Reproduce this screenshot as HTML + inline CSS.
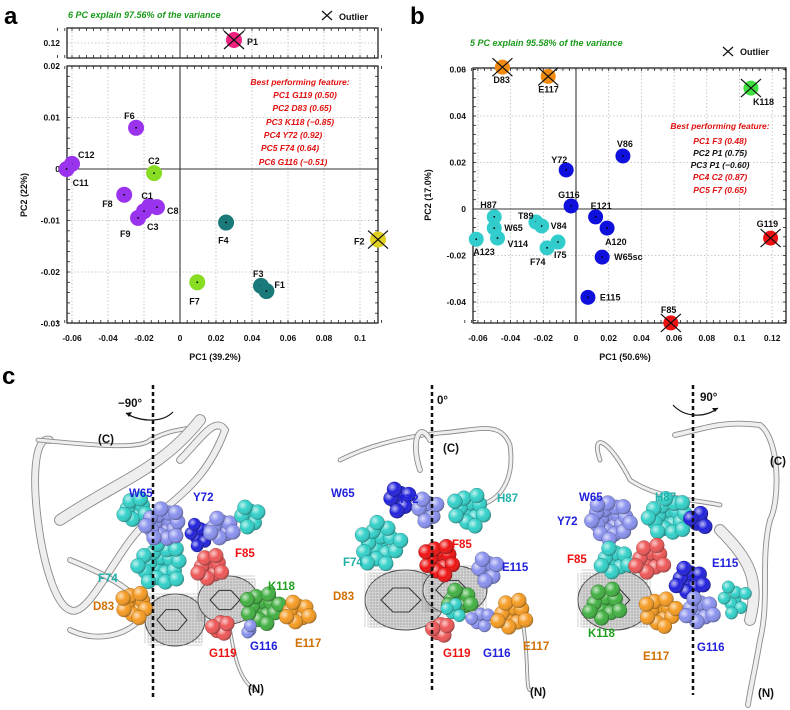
<!DOCTYPE html>
<html><head><meta charset="utf-8"><style>
html,body{margin:0;padding:0;background:#fff;}
svg{display:block;font-family:"Liberation Sans",sans-serif;}
.t{font-weight:bold;font-size:9px;fill:#111;}
.tk{font-weight:bold;font-size:8.5px;fill:#111;}
.g{font-weight:bold;font-style:italic;font-size:9px;fill:#1a9a1a;}
.r{font-weight:bold;font-style:italic;font-size:8.5px;fill:#e01010;}
.k{font-weight:bold;font-style:italic;font-size:8.5px;fill:#111;}
.ml{font-weight:bold;font-size:11.5px;}
</style></head><body>
<svg id="fig" width="790" height="710" viewBox="0 0 790 710" xmlns="http://www.w3.org/2000/svg">
<defs>
<radialGradient id="gp" cx="35%" cy="35%" r="70%"><stop offset="0" stop-color="#fff" stop-opacity="0.7"/><stop offset="0.5" stop-color="#fff" stop-opacity="0"/><stop offset="1" stop-color="#000" stop-opacity="0.3"/></radialGradient>
</defs>
<g id="panelA"></g>
<g id="panelB"></g>
<g id="panelC"></g>
</svg>
<script>
// ---------- Panel a data ----------
const aLabels = ["F6","C12","C11","C2","F8","C1","C8","C3","F9","F4","F2","F7","F3","F1"];
const aX = [-0.0244,-0.060,-0.063,-0.0144,-0.031,-0.017,-0.0128,-0.020,-0.0233,0.0256,0.110,0.0096,0.045,0.048];
const aY = [0.008,0.001,0.0,-0.0008,-0.005,-0.0072,-0.0074,-0.0082,-0.0095,-0.0104,-0.0137,-0.022,-0.0227,-0.0237];
const aGroup = ["p","p","p","lg","p","p","p","p","p","t","y","lg","t","t"];
const aOutlier = [0,0,0,0,0,0,0,0,0,0,1,0,0,0];
const aTopLabel = ["P1"];
const aTopX = [0.030];
const aXTicks = [-0.06,-0.04,-0.02,0,0.02,0.04,0.06,0.08,0.1];
const aXTickLabels = ["-0.06","-0.04","-0.02","0","0.02","0.04","0.06","0.08","0.1"];
const aYTicks = [0.02,0.01,0,-0.01,-0.02,-0.03];
const aYTickLabels = ["0.02","0.01","0","-0.01","-0.02","-0.03"];
const aFeatures = ["PC1  G119 (0.50)","PC2  D83 (0.65)","PC3  K118 (\u22120.85)","PC4  Y72 (0.92)","PC5  F74 (0.64)","PC6 G116 (\u22120.51)"];
// ---------- Panel b data ----------
const bLabels = ["D83","E117","K118","V86","Y72","G116","E121","A120","W65sc","E115","F85","G119","H87","W65","V114","A123","T89","V84","F74","I75"];
const bX = [-0.045,-0.017,0.107,0.0287,-0.006,-0.003,0.012,0.019,0.016,0.0073,0.058,0.119,-0.050,-0.050,-0.048,-0.061,-0.0245,-0.021,-0.0177,-0.011];
const bY = [0.061,0.057,0.052,0.0228,0.0168,0.0013,-0.0034,-0.0082,-0.0207,-0.038,-0.049,-0.0125,-0.0034,-0.0082,-0.0125,-0.013,-0.0056,-0.0073,-0.0167,-0.0142];
const bGroup = ["o","o","g","b","b","b","b","b","b","b","r","r","c","c","c","c","c","c","c","c"];
const bOutlier = [1,1,1,0,0,0,0,0,0,0,1,1,0,0,0,0,0,0,0,0];
const bXTicks = [-0.06,-0.04,-0.02,0,0.02,0.04,0.06,0.08,0.1,0.12];
const bXTickLabels = ["-0.06","-0.04","-0.02","0","0.02","0.04","0.06","0.08","0.1","0.12"];
const bYTicks = [0.06,0.04,0.02,0,-0.02,-0.04];
const bYTickLabels = ["0.06","0.04","0.02","0","-0.02","-0.04"];
const bFeatures = ["PC1 F3 (0.48)","PC2 P1 (0.75)","PC3 P1 (\u22120.60)","PC4 C2 (0.87)","PC5 F7 (0.65)"];
const bFeatureRed = [1,0,0,1,1];

const NS="http://www.w3.org/2000/svg";
function mk(parent,tag,attrs,text){const e=document.createElementNS(NS,tag);for(const k in attrs)e.setAttribute(k,attrs[k]);if(text!==undefined)e.textContent=text;parent.appendChild(e);return e;}
const colors={p:"#9933ee",lg:"#88dd22",t:"#1a7a7a",y:"#e0d020",pk:"#f0207f",o:"#f08a10",g:"#40e040",b:"#1010dd",r:"#ee1111",c:"#33cccc"};

function frame(g,x0,x1,y0,y1){
  const r=mk(g,"rect",{x:x0,y:y0,width:x1-x0,height:y1-y0,fill:"none",stroke:"#222","stroke-width":1.3});
  
  
}
function minorTicksX(g,sx,ticks,y0,y1){
  const step=(ticks[1]-ticks[0])/5;
  for(let v=ticks[0]-step*2;v<=ticks[ticks.length-1]+step*3;v+=step){const x=sx(v);
    mk(g,"line",{x1:x,x2:x,y1:y0,y2:y0+3,stroke:"#222","stroke-width":0.8});
    mk(g,"line",{x1:x,x2:x,y1:y1,y2:y1-3,stroke:"#222","stroke-width":0.8});}
}
function minorTicksY(g,sy,ticks,x0,x1,ymin,ymax){
  const step=Math.abs(ticks[1]-ticks[0])/5;
  for(let v=ticks[ticks.length-1]-step*2;v<=ticks[0]+step*2;v+=step){const y=sy(v);if(y<ymin||y>ymax)continue;
    mk(g,"line",{x1:x0,x2:x0+3,y1:y,y2:y,stroke:"#222","stroke-width":0.8});
    mk(g,"line",{x1:x1,x2:x1-3,y1:y,y2:y,stroke:"#222","stroke-width":0.8});}
}
function marker(g,x,y,r,col,out,name){
  const c=mk(g,"circle",{cx:x,cy:y,r:r,fill:col});
  
  
  mk(g,"circle",{cx:x,cy:y,r:0.9,fill:"#000"});
  if(out){mk(g,"path",{d:`M${x-10} ${y-9}L${x+10} ${y+9}M${x-10} ${y+9}L${x+10} ${y-9}`,stroke:"#111","stroke-width":1.2,fill:"none"});}
}

// ---------- Panel A ----------
(function(){
  const g=document.getElementById("panelA");
  const X0=67,X1=378,Y0=66,Y1=323;
  const sx=v=>180+v*1800, sy=v=>169-v*5150;
  mk(g,"text",{x:4,y:24,"font-size":24,"font-weight":"bold"},"a");
  const tt=mk(g,"text",{x:68,y:18,class:"g"},"6 PC explain 97.56% of the variance");
  
  mk(g,"path",{d:"M322 11L332 20M322 20L332 11",stroke:"#111","stroke-width":1.2});
  mk(g,"text",{x:339,y:20,class:"t"},"Outlier");
  const TY0=28,TY1=58;
  aXTicks.forEach(v=>mk(g,"line",{x1:sx(v),x2:sx(v),y1:TY0,y2:TY1,stroke:"#bbb","stroke-dasharray":"1.5 2","stroke-width":0.8}));
  mk(g,"line",{x1:X0,x2:X1,y1:43,y2:43,stroke:"#bbb","stroke-dasharray":"1.5 2","stroke-width":0.8});
  minorTicksX(g,sx,aXTicks,TY0,TY1);
  mk(g,"line",{x1:180,x2:180,y1:TY0,y2:TY1,stroke:"#333","stroke-width":1});
  frame(g,X0,X1,TY0,TY1);
  mk(g,"text",{x:60,y:46,class:"tk","text-anchor":"end"},"0.12");
  aTopLabel.forEach((l,i)=>{marker(g,sx(aTopX[i]),40,8,colors.pk,1,"point-"+l);mk(g,"text",{x:sx(aTopX[i])+13,y:45,class:"t","font-size":10},l);});
  aXTicks.forEach(v=>mk(g,"line",{x1:sx(v),x2:sx(v),y1:Y0,y2:Y1,stroke:"#bbb","stroke-dasharray":"1.5 2","stroke-width":0.8}));
  aYTicks.forEach(v=>mk(g,"line",{x1:X0,x2:X1,y1:sy(v),y2:sy(v),stroke:"#bbb","stroke-dasharray":"1.5 2","stroke-width":0.8}));
  minorTicksX(g,sx,aXTicks,Y0,Y1);
  minorTicksY(g,sy,aYTicks,X0,X1,Y0,Y1);
  mk(g,"line",{x1:180,x2:180,y1:Y0,y2:Y1,stroke:"#222","stroke-width":1});
  mk(g,"line",{x1:X0,x2:X1,y1:sy(0),y2:sy(0),stroke:"#333","stroke-width":1});
  frame(g,X0,X1,Y0,Y1);
  aXTicks.forEach((v,i)=>mk(g,"text",{x:sx(v),y:341,class:"tk","text-anchor":"middle"},aXTickLabels[i]));
  aYTicks.forEach((v,i)=>mk(g,"text",{x:60,y:sy(v)+3,class:"tk","text-anchor":"end"},aYTickLabels[i]));
  const xl=mk(g,"text",{x:215,y:360,class:"t","text-anchor":"middle"},"PC1 (39.2%)");
  
  const yl=mk(g,"text",{x:0,y:0,class:"t","text-anchor":"middle",transform:"translate(27,195) rotate(-90)"},"PC2 (22%)");
  
  const off={F6:[-12,-9],C12:[6,-6],C11:[6,17],C2:[-6,-9],F8:[-22,12],C1:[-8,-7],C8:[10,7],C3:[3,19],F9:[-18,19],F4:[-8,21],F2:[-24,5],F7:[-8,22],F3:[-8,-9],F1:[8,-3]};
  aLabels.forEach((l,i)=>{const x=sx(aX[i]),y=sy(aY[i]);marker(g,x,y,8,colors[aGroup[i]],aOutlier[i],"point-"+l);});
  aLabels.forEach((l,i)=>{const x=sx(aX[i]),y=sy(aY[i]);const o=off[l]||[8,-8];mk(g,"text",{x:x+o[0],y:y+o[1],class:"t","font-size":10},l);});
  mk(g,"text",{x:300,y:85,class:"r","text-anchor":"middle"},"Best performing feature:");
  const fy=[98,111,125,138,151,165], fx=[305,302,300,293,290,293];
  aFeatures.forEach((f,i)=>mk(g,"text",{x:fx[i],y:fy[i],class:"r","text-anchor":"middle"},f));
})();

// ---------- Panel B ----------
(function(){
  const g=document.getElementById("panelB");
  const X0=473,X1=786,Y0=68,Y1=323;
  const sx=v=>576+v*1635, sy=v=>209-v*2325;
  mk(g,"text",{x:410,y:24,"font-size":24,"font-weight":"bold"},"b");
  mk(g,"text",{x:470,y:46,class:"g","font-size":8.5},"5 PC explain 95.58% of the variance");
  mk(g,"path",{d:"M723 47L733 56M723 56L733 47",stroke:"#111","stroke-width":1.2});
  mk(g,"text",{x:740,y:55,class:"t"},"Outlier");
  bXTicks.forEach(v=>mk(g,"line",{x1:sx(v),x2:sx(v),y1:Y0,y2:Y1,stroke:"#bbb","stroke-dasharray":"1.5 2","stroke-width":0.8}));
  bYTicks.forEach(v=>mk(g,"line",{x1:X0,x2:X1,y1:sy(v),y2:sy(v),stroke:"#bbb","stroke-dasharray":"1.5 2","stroke-width":0.8}));
  minorTicksX(g,sx,bXTicks,Y0,Y1);
  minorTicksY(g,sy,bYTicks,X0,X1,Y0,Y1);
  mk(g,"line",{x1:sx(0),x2:sx(0),y1:Y0,y2:Y1,stroke:"#222","stroke-width":1});
  mk(g,"line",{x1:X0,x2:X1,y1:sy(0),y2:sy(0),stroke:"#333","stroke-width":1});
  frame(g,X0,X1,Y0,Y1);
  bXTicks.forEach((v,i)=>mk(g,"text",{x:sx(v),y:341,class:"tk","text-anchor":"middle"},bXTickLabels[i]));
  bYTicks.forEach((v,i)=>mk(g,"text",{x:466,y:sy(v)+3,class:"tk","text-anchor":"end"},bYTickLabels[i]));
  const xl=mk(g,"text",{x:625,y:360,class:"t","text-anchor":"middle"},"PC1 (50.6%)");
  
  const yl=mk(g,"text",{x:0,y:0,class:"t","text-anchor":"middle",transform:"translate(431,195) rotate(-90)"},"PC2 (17.0%)");
  
  const off={D83:[-9,16],E117:[-10,16],K118:[2,17],V86:[-6,-9],Y72:[-15,-7],G116:[-13,-8],E121:[-5,-8],A120:[-2,17],W65sc:[12,3],E115:[12,3],F85:[-10,-10],G119:[-14,-11],H87:[-14,-9],W65:[10,3],V114:[10,9],A123:[-3,16],T89:[-18,-3],V84:[9,3],F74:[-17,17],I75:[-4,16]};
  bLabels.forEach((l,i)=>{marker(g,sx(bX[i]),sy(bY[i]),7.5,colors[bGroup[i]],bOutlier[i],"point-"+l);});
  bLabels.forEach((l,i)=>{const o=off[l];mk(g,"text",{x:sx(bX[i])+o[0],y:sy(bY[i])+o[1],class:"t","font-size":8.5},l);});
  mk(g,"text",{x:720,y:129,class:"r","text-anchor":"middle"},"Best performing feature:");
  const fy=[144,156,168,180,193];
  bFeatures.forEach((f,i)=>mk(g,"text",{x:720,y:fy[i],class:bFeatureRed[i]?"r":"k","text-anchor":"middle"},f));
})();

// ---------- Panel C (structure renders, approximated) ----------
(function(){
  const g=document.getElementById("panelC");
  mk(g,"text",{x:2,y:384,"font-size":24,"font-weight":"bold"},"c");
  function rib(d,w){mk(g,"path",{d:d,fill:"none",stroke:"#8a8a8a","stroke-width":w+1.8,"stroke-linecap":"round"});mk(g,"path",{d:d,fill:"none",stroke:"#eeeeee","stroke-width":w,"stroke-linecap":"round"});}
  function sph(cx,cy,col,n,spread,r){r=(r||6)*1.25;n=Math.round(n*1.6);spread*=1.3;for(let i=0;i<n;i++){const a=i*2.4,d=spread*Math.sqrt(i/n);const x=cx+d*Math.cos(a),y=cy+d*Math.sin(a);mk(g,"circle",{cx:x,cy:y,r:r,fill:col,stroke:"rgba(0,0,0,0.3)","stroke-width":0.5});mk(g,"circle",{cx:x,cy:y,r:r,fill:"url(#gp)"});}}
  function mesh(cx,cy,rx,ry){mk(g,"ellipse",{cx:cx,cy:cy,rx:rx,ry:ry,fill:"#dcdcdc",stroke:"#444","stroke-width":1});
    for(let k=-rx;k<rx;k+=3)mk(g,"line",{x1:cx+k,x2:cx+k,y1:cy-ry*0.9,y2:cy+ry*0.9,stroke:"#888","stroke-width":0.4});
    for(let k=-ry;k<ry;k+=3)mk(g,"line",{x1:cx-rx*0.9,x2:cx+rx*0.9,y1:cy+k,y2:cy+k,stroke:"#888","stroke-width":0.4});
    mk(g,"path",{d:`M${cx-rx*0.6} ${cy} l${rx*0.3} -${ry*0.4} l${rx*0.4} 0 l${rx*0.3} ${ry*0.4} l-${rx*0.3} ${ry*0.4} l-${rx*0.4} 0z`,fill:"none",stroke:"#333","stroke-width":1});}
  function lab(x,y,t,c){const e=mk(g,"text",{x:x,y:y,class:"ml",fill:c},t);}
  function dash(x,y0,y1){mk(g,"line",{x1:x,x2:x,y1:y0,y2:y1,stroke:"#111","stroke-width":2.5,"stroke-dasharray":"4 3"});}
  const C={b:"#2020dd",lb:"#8890ee",c:"#30d0c8",r:"#ee5555",o:"#f59a20",gr:"#40b040",dc:"#d07000"};
  // left
  rib("M50 440 C20 430 40 600 70 610 C90 620 120 540 150 520 C190 490 210 470 225 430 C215 415 200 440 180 460",6);
  rib("M38 440 C90 445 140 450 150 440 C170 430 180 430 190 428",3);
  rib("M60 520 C120 480 160 470 200 420",10);
  rib("M70 560 C120 580 150 600 140 620 C120 640 90 640 70 630",4);
  rib("M230 630 C235 660 240 680 255 690",2);
  mesh(175,620,30,26);mesh(228,600,30,24);
  sph(135,510,C.c,7,10,6);sph(160,565,C.c,12,18,6);sph(163,525,C.lb,12,14,6);
  sph(200,535,C.b,5,10,5);sph(222,528,C.lb,6,10,6);sph(250,517,C.c,5,9,6);
  sph(210,568,C.r,7,11,6);
  sph(135,605,C.o,8,11,6);sph(262,608,C.gr,9,14,6);sph(298,612,C.o,6,10,6);
  sph(220,628,C.r,4,7,6);sph(250,630,C.lb,2,4,5);
  dash(153,385,700);
  mk(g,"path",{d:"M173 412 C160 425 135 420 126 413",fill:"none",stroke:"#111","stroke-width":1.2});
  mk(g,"path",{d:"M126 413 l6 -1 l-3 5z",fill:"#111"});
  mk(g,"text",{x:118,y:407,class:"ml",fill:"#111"},"\u221290\u00b0");
  lab(98,443,"(C)","#111");lab(129,497,"W65",C.b);lab(193,501,"Y72",C.b);lab(235,557,"F85","#ee1111");
  lab(98,582,"F74","#20b0a8");lab(268,590,"K118","#20a020");lab(93,610,"D83",C.dc);lab(250,650,"G116",C.b);
  lab(295,647,"E117",C.dc);lab(209,657,"G119","#ee1111");lab(248,693,"(N)","#111");
  // middle
  rib("M340 460 C380 440 420 435 440 433 C480 430 500 420 510 445 C515 480 500 500 480 505",3);
  rib("M420 470 C410 440 420 420 430 440",4);
  rib("M520 610 C530 650 525 690 530 690",2);
  mesh(405,600,40,30);mesh(455,590,32,24);
  sph(400,500,C.b,5,10,6);sph(428,510,C.lb,5,10,6);sph(470,510,C.c,8,14,6);sph(380,545,C.c,10,18,6);
  sph(440,560,"#ee1111",8,13,6);sph(488,570,C.lb,5,10,6);sph(460,600,C.gr,6,10,6);
  sph(440,630,C.r,4,7,6);sph(480,620,C.lb,4,8,5);sph(512,615,C.o,7,13,6);sph(455,610,C.c,3,7,5);
  dash(432,385,690);
  mk(g,"text",{x:437,y:404,class:"ml",fill:"#111"},"0\u00b0");
  lab(443,452,"(C)","#111");lab(331,497,"W65",C.b);lab(398,503,"Y72",C.b);lab(497,502,"H87","#20b0a8");
  lab(343,566,"F74","#20b0a8");lab(452,548,"F85","#ee1111");lab(502,571,"E115",C.b);lab(333,600,"D83",C.dc);
  lab(443,657,"G119","#ee1111");lab(483,657,"G116",C.b);lab(523,650,"E117",C.dc);lab(530,696,"(N)","#111");
  // right
  rib("M675 435 C700 430 720 420 760 425 C780 440 780 500 770 520 C760 560 770 600 760 640 C755 670 750 690 748 705",4);
  rib("M600 460 C590 430 610 440 630 480 C660 500 700 500 720 505",3);
  rib("M720 530 C750 560 760 580 750 620",10);
  mesh(615,600,37,30);
  sph(610,520,C.lb,14,16,6);sph(668,517,C.c,12,16,6);sph(700,520,C.b,3,8,6);
  sph(615,560,C.c,6,12,6);sph(650,560,C.r,7,13,6);sph(690,580,C.b,6,12,6);
  sph(605,605,C.gr,7,14,6);sph(660,612,C.o,9,13,6);sph(700,610,C.lb,6,12,6);sph(735,600,C.c,5,12,5);
  dash(693,385,695);
  mk(g,"path",{d:"M673 405 C685 418 705 418 718 408",fill:"none",stroke:"#111","stroke-width":1.2});
  mk(g,"path",{d:"M718 408 l-6 0 l3 4z",fill:"#111"});
  mk(g,"text",{x:700,y:401,class:"ml",fill:"#111"},"90\u00b0");
  lab(770,465,"(C)","#111");lab(579,501,"W65",C.b);lab(655,501,"H87","#20b0a8");lab(557,525,"Y72",C.b);
  lab(567,563,"F85","#ee1111");lab(712,567,"E115",C.b);lab(588,637,"K118","#20a020");lab(697,651,"G116",C.b);
  lab(643,660,"E117",C.dc);lab(758,697,"(N)","#111");
})();
</script>
</body></html>
